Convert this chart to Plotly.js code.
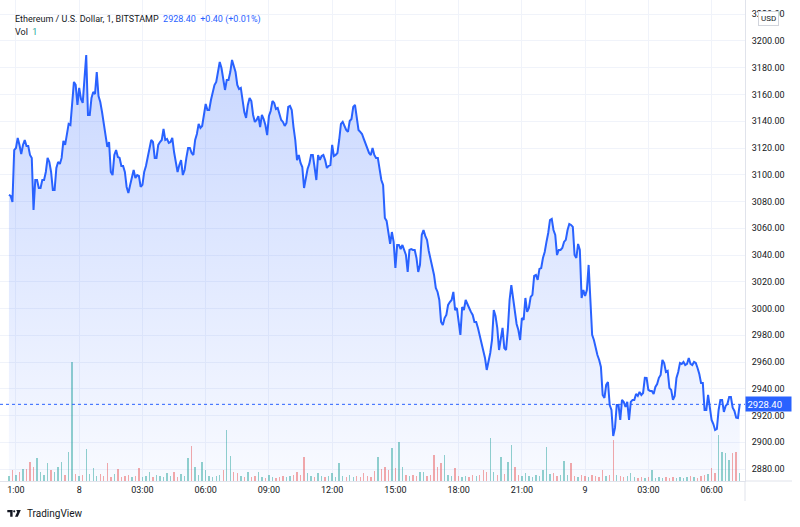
<!DOCTYPE html>
<html><head><meta charset="utf-8">
<script src="https://cdn.plot.ly/plotly-3.0.1.min.js"></script>
<style>html,body{margin:0;padding:0;background:#fff}#chart{width:800px;height:527px}</style>
</head><body><div id="chart"></div>
<script>
// ---- data ----
const startTime = [2022, 2, 7, 20, 40];   // first sample, Feb 7 20:40
const stepMinutes = 5;
// closes on the :x0 minute marks (20:40, 20:50, ...)
const closesAtX0 = [3084.9, 3079.7, 3120.0, 3122.3, 3122.3, 3121.5, 3114.8, 3073.7, 3096.1, 3090.1,
 3096.1, 3112.6, 3102.1, 3088.6, 3109.6, 3112.6, 3122.3, 3138.0, 3152.2, 3167.2,
 3164.9, 3153.7, 3189.5, 3144.7, 3161.9, 3176.8, 3154.4, 3138.0, 3120.8, 3102.1,
 3114.8, 3113.3, 3106.6, 3102.1, 3086.4, 3097.6, 3097.6, 3099.1, 3092.4, 3106.6,
 3121.5, 3124.5, 3112.6, 3124.5, 3134.2, 3126.8, 3124.5, 3117.0, 3102.1, 3111.0,
 3103.6, 3120.0, 3116.3, 3126.0, 3138.0, 3136.5, 3152.9, 3148.4, 3161.9, 3169.4,
 3184.3, 3169.4, 3170.9, 3176.8, 3181.3, 3167.2, 3164.9, 3146.9, 3152.2, 3155.1,
 3139.5, 3143.9, 3144.7, 3137.2, 3143.9, 3155.1, 3149.2, 3145.4, 3139.5, 3138.7,
 3151.4, 3135.7, 3111.0, 3108.8, 3090.1, 3104.3, 3114.8, 3103.6, 3114.8, 3114.0,
 3111.0, 3106.6, 3122.3, 3114.8, 3126.0, 3139.5, 3133.5, 3140.2, 3150.7, 3142.4,
 3132.0, 3126.8, 3118.5, 3114.8, 3114.8, 3112.6, 3096.1, 3067.7, 3057.2, 3057.2,
 3030.3, 3047.5, 3047.5, 3040.0, 3043.8, 3043.8, 3037.8, 3032.6, 3058.7, 3051.3,
 3036.3, 3025.1, 3012.4, 2990.0, 2992.9, 3002.7, 3006.4, 2998.9, 2990.0, 3001.2,
 3006.4, 3000.4, 2995.2, 2990.0, 2979.5, 2969.0, 2954.1, 2966.8, 2998.9, 2985.5,
 2978.0, 2970.5, 2984.0, 3017.6, 2995.2, 2984.0, 2992.9, 3007.9, 3000.4, 3010.2,
 3025.1, 3029.6, 3037.8, 3049.8, 3066.2, 3058.7, 3040.0, 3043.8, 3049.8, 3058.7,
 3062.5, 3040.0, 3048.3, 3007.9, 3009.4, 3032.6, 2980.3, 2970.5, 2961.6, 2935.4,
 2942.9, 2927.9, 2904.8, 2927.9, 2916.7, 2930.2, 2930.2, 2930.2, 2931.7, 2934.7,
 2935.4, 2948.2, 2939.2, 2938.4, 2941.4, 2948.2, 2961.6, 2952.6, 2940.6, 2931.7,
 2948.2, 2959.3, 2960.1, 2958.6, 2958.6, 2960.1, 2955.6, 2944.4, 2924.2, 2935.4,
 2916.7, 2909.2, 2924.2, 2931.7, 2927.2, 2933.9, 2925.9, 2918.4, 2928.4];
// closes on the :x5 minute marks (20:45, 20:55, ...)
const closesAtX5 = [3084.2, 3118.5, 3127.5, 3115.5, 3126.0, 3121.5, 3112.6, 3096.1, 3090.1, 3096.1,
 3102.1, 3109.6, 3088.6, 3105.1, 3108.1, 3125.3, 3132.0, 3137.2, 3169.4, 3152.2,
 3156.7, 3170.9, 3144.7, 3157.4, 3160.4, 3158.9, 3146.9, 3129.0, 3124.5, 3099.8,
 3118.5, 3112.6, 3106.6, 3090.9, 3092.4, 3103.6, 3099.8, 3090.9, 3102.1, 3113.3,
 3126.0, 3112.6, 3122.3, 3126.0, 3126.0, 3123.8, 3127.5, 3108.8, 3107.3, 3099.8,
 3112.6, 3120.0, 3114.8, 3130.5, 3135.0, 3144.7, 3148.4, 3155.9, 3167.1, 3178.3,
 3179.8, 3163.4, 3170.9, 3185.8, 3176.8, 3164.1, 3155.9, 3142.5, 3157.4, 3144.7,
 3141.0, 3135.7, 3141.7, 3129.7, 3147.7, 3153.7, 3149.9, 3141.0, 3136.5, 3150.7,
 3148.4, 3126.0, 3114.8, 3105.8, 3097.6, 3108.1, 3114.8, 3096.1, 3111.1, 3114.8,
 3105.1, 3107.3, 3114.0, 3116.3, 3138.0, 3135.7, 3132.0, 3141.7, 3152.2, 3133.5,
 3130.5, 3123.0, 3116.3, 3120.0, 3112.6, 3105.8, 3092.4, 3065.5, 3048.3, 3049.8,
 3047.5, 3044.5, 3043.8, 3027.4, 3044.5, 3043.8, 3027.4, 3055.0, 3054.3, 3043.0,
 3031.8, 3015.4, 3006.4, 2987.7, 2995.2, 3004.9, 3012.4, 3000.4, 2980.3, 2998.9,
 3002.7, 2997.5, 2990.0, 2985.5, 2972.8, 2963.1, 2960.1, 2976.5, 2994.5, 2969.0,
 2985.5, 2969.0, 3006.4, 3007.9, 2988.5, 2976.5, 2991.5, 2997.5, 3008.7, 3024.4,
 3021.4, 3030.3, 3042.3, 3056.5, 3067.0, 3055.0, 3043.8, 3045.3, 3051.3, 3063.2,
 3061.0, 3037.8, 3043.8, 3013.9, 3013.9, 3002.7, 2976.5, 2965.3, 2956.3, 2933.2,
 2945.1, 2924.2, 2910.8, 2927.9, 2931.7, 2926.4, 2916.7, 2931.7, 2936.2, 2937.7,
 2936.9, 2948.1, 2938.4, 2936.2, 2943.6, 2950.4, 2959.3, 2953.4, 2939.2, 2934.7,
 2952.6, 2958.6, 2957.8, 2963.1, 2957.8, 2959.3, 2951.1, 2944.4, 2924.2, 2926.4,
 2913.7, 2910.0, 2931.7, 2922.7, 2928.7, 2933.9, 2923.5, 2918.2];
// volume per 10-minute mark (same times as closesAtX0)
const volumes = [5,11,6,9,12,12,19,14,23,9,
 6,18,11,9,14,19,6,29,119,7,
 5,6,32,7,13,5,7,5,18,4,
 7,12,4,5,6,4,5,13,4,5,
 9,4,6,5,4,8,5,9,4,7,
 5,23,35,14,6,19,11,5,4,5,
 6,11,51,25,9,8,5,4,9,4,
 5,9,4,3,6,4,3,4,5,4,
 5,6,9,6,24,8,5,4,8,5,
 4,5,8,4,18,5,4,6,4,5,
 4,8,5,4,10,24,12,14,11,33,
 13,39,14,6,5,6,5,9,9,5,
 6,26,14,18,26,6,5,13,5,4,
 5,4,6,5,6,11,9,43,9,6,
 24,7,19,36,14,6,5,8,5,4,
 6,5,11,34,7,8,5,6,20,6,
 18,5,4,6,5,4,6,5,4,11,
 5,6,41,6,5,4,5,8,4,3,
 4,3,4,11,3,4,3,4,3,4,
 3,4,3,4,5,4,3,5,6,7,
 13,8,46,29,28,21,28,29,8];
const tickTimes = ['2022-02-07 21:00','2022-02-08 00:00','2022-02-08 03:00','2022-02-08 06:00',
 '2022-02-08 09:00','2022-02-08 12:00','2022-02-08 15:00','2022-02-08 18:00','2022-02-08 21:00',
 '2022-02-09 00:00','2022-02-09 03:00','2022-02-09 06:00'];
const tickLabels = ['1:00','8','03:00','06:00','09:00','12:00','15:00','18:00','21:00','9','03:00','06:00'];
const timeRange = ['2022-02-07 20:14:35','2022-02-09 07:35:05'];
const priceRange = [2871.1, 3230.64];
const volumeRange = [0, 481];
const symbolTitle = 'Ethereum / U.S. Dollar, 1, BITSTAMP';
const changeText = '+0.40 (+0.01%)';
const volLabel = 'Vol';
const volValue = '1';
const currency = 'USD';
const brand = 'TradingView';

// ---- build ----
function fmt(ms){ return new Date(ms).toISOString().slice(0,19).replace('T',' '); }
const t0 = Date.UTC(startTime[0], startTime[1]-1, startTime[2], startTime[3], startTime[4]);
const prices = [];
closesAtX0.forEach((p, i) => { prices.push(p); if (i < closesAtX5.length) prices.push(closesAtX5[i]); });
const times = prices.map((_, i) => fmt(t0 + i*stepMinutes*60000));
const volTimes = closesAtX0.map((_, i) => fmt(t0 + i*2*stepMinutes*60000));
const volColors = closesAtX0.map((p, i) => {
  const prev = i === 0 ? p : closesAtX5[i-1];
  return p >= prev ? 'rgba(38,166,154,0.5)' : 'rgba(239,83,80,0.5)';
});
const last = prices[prices.length-1];

const PW = 745, PH = 481;
const px = x => x / PW;
const py = y => (PH - y) / PH;

const font = 'Roboto, "Liberation Sans", sans-serif';
const textColor = '#131722';

const traces = [
  {type:'bar', x: volTimes, y: volumes, yaxis:'y', marker:{color: volColors, line:{width:0}},
   width: 4*60000, hoverinfo:'skip', showlegend:false},
  {type:'scatter', mode:'lines', x: times, y: prices, yaxis:'y2',
   line:{color:'#2962ff', width:2}, fill:'tozeroy',
   fillgradient:{type:'vertical', start: priceRange[0], stop: 3200,
     colorscale:[[0,'rgba(41,98,255,0.03)'],[1,'rgba(41,98,255,0.26)']]},
   hoverinfo:'skip', showlegend:false}
];

const logo = 'M '+px(7.3)+' '+py(510)+' L '+px(12.6)+' '+py(510)+' L '+px(12.6)+' '+py(516.8)+' L '+px(10.2)+' '+py(516.8)+' L '+px(10.2)+' '+py(512.2)+' L '+px(7.3)+' '+py(512.2)+' Z';
const logo2 = 'M '+px(16.2)+' '+py(510)+' L '+px(20.8)+' '+py(510)+' L '+px(17.8)+' '+py(516.8)+' L '+px(15.0)+' '+py(516.8)+' L '+px(17.2)+' '+py(512)+' Z';

const layout = {
  width: 800, height: 527,
  margin:{l:0, r:55, t:0, b:46, pad:0},
  paper_bgcolor:'#ffffff', plot_bgcolor:'#ffffff',
  font:{family: font, size: 9, color: textColor},
  showlegend:false, bargap:0,
  xaxis:{type:'date', range: timeRange, tickmode:'array', tickvals: tickTimes, ticktext: tickLabels,
    showgrid:true, gridcolor:'#f0f3fa', gridwidth:1, showline:true, linecolor:'#e0e3eb',
    ticks:'', zeroline:false, tickfont:{size:9, color:textColor}, fixedrange:true},
  yaxis:{range: volumeRange, visible:false, fixedrange:true},
  yaxis2:{overlaying:'y', side:'right', range: priceRange, tick0: 2880, dtick: 20, tickformat:'.2f',
    showgrid:true, gridcolor:'#f0f3fa', gridwidth:1, showline:true, linecolor:'#e0e3eb',
    ticks:'', ticklabelstandoff: 4, zeroline:false, tickfont:{size:9, color:textColor}, fixedrange:true},
  shapes:[
    {type:'line', xref:'paper', yref:'y2', x0:0, x1:1, y0:last, y1:last, line:{color:'#2962ff', width:1, dash:'dot'}},
    {type:'line', xref:'paper', yref:'paper', x0:1, x1:1, y0:0, y1:py(501), line:{color:'#e0e3eb', width:1}},
    {type:'line', xref:'paper', yref:'paper', x0:1, x1:px(792), y0:0, y1:0, line:{color:'#e0e3eb', width:1}},
    {type:'path', xref:'paper', yref:'paper', path: logo, fillcolor:textColor, line:{width:0}},
    {type:'circle', xref:'paper', yref:'paper', x0:px(13.1), x1:px(15.3), y0:py(510.2), y1:py(512.4), fillcolor:textColor, line:{width:0}},
    {type:'path', xref:'paper', yref:'paper', path: logo2, fillcolor:textColor, line:{width:0}}
  ],
  annotations:[
    {xref:'paper', yref:'paper', x:px(13), y:py(19.5), xanchor:'left', yanchor:'middle', showarrow:false,
     text: symbolTitle + '&nbsp;&nbsp;<span style="color:#2962ff">' + last.toFixed(2) + '&nbsp;&nbsp;' + changeText + '</span>',
     font:{size:9, color:textColor}},
    {xref:'paper', yref:'paper', x:px(13), y:py(32.5), xanchor:'left', yanchor:'middle', showarrow:false,
     text: volLabel + '&nbsp;&nbsp;<span style="color:#26a69a">' + volValue + '</span>', font:{size:9, color:textColor}},
    {xref:'paper', yref:'paper', x:px(768.5), y:py(19), xanchor:'center', yanchor:'middle', showarrow:false,
     text: currency, font:{size:8, color:textColor}, bgcolor:'#ffffff', bordercolor:'#d1d4dc', borderwidth:1, borderpad:2},
    {xref:'paper', yref:'y2', x:1, y:last, xanchor:'left', yanchor:'middle', showarrow:false,
     text: last.toFixed(2), font:{size:9.5, color:'#ffffff'}, bgcolor:'#2962ff', borderpad:1.5, width:42, align:'left'},
    {xref:'paper', yref:'paper', x:px(24.5), y:py(513.5), xanchor:'left', yanchor:'middle', showarrow:false,
     text: brand, font:{size:10, color:textColor}}
  ]
};

Plotly.newPlot('chart', traces, layout, {displayModeBar:false, staticPlot:true});
</script>
</body></html>
